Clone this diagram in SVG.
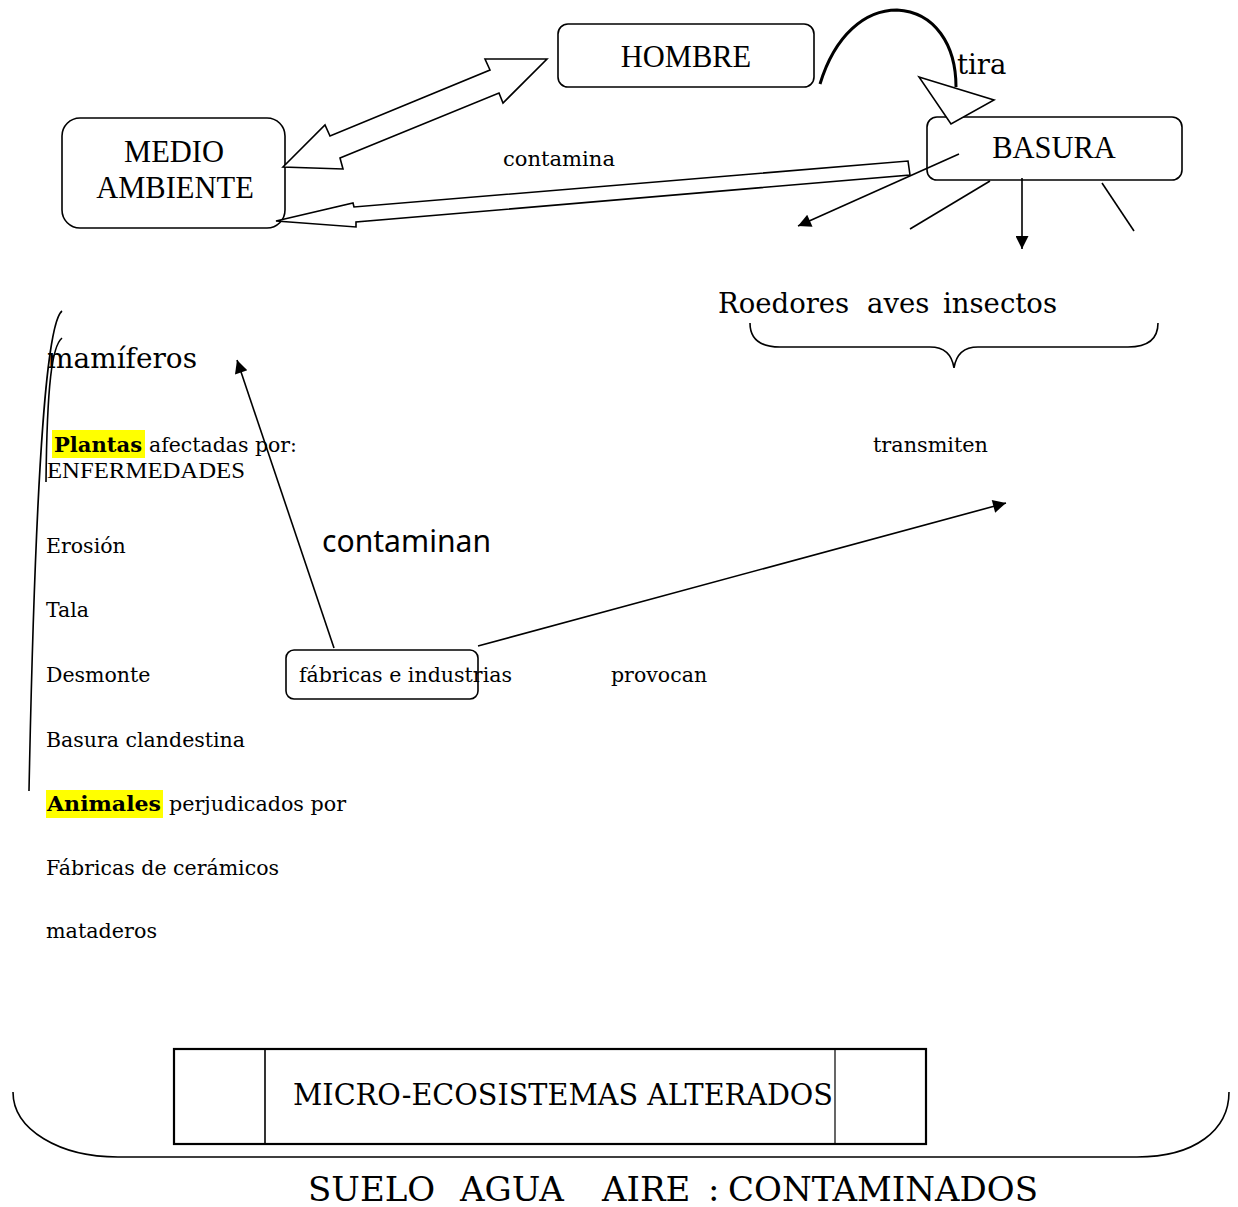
<svg xmlns="http://www.w3.org/2000/svg" width="1238" height="1207" viewBox="0 0 1238 1207">
<style>
.box{fill:#fff;stroke:#000;stroke-width:1.6}
.ln{fill:none;stroke:#000;stroke-width:1.6}
.blk{fill:#fff;stroke:#000;stroke-width:1.6;stroke-linejoin:miter}
.tm{font-family:"Liberation Serif","Times New Roman",serif;font-size:30.5px;fill:#000}
.cb{font-family:"DejaVu Serif","Liberation Serif",serif;font-size:20.5px;fill:#000}
.cbb{font-family:"DejaVu Serif","Liberation Serif",serif;font-size:20px;font-weight:bold;fill:#000}
.big{font-family:"DejaVu Serif","Liberation Serif",serif;font-size:27.5px;fill:#000}
.sans{font-family:"Noto Sans","Open Sans",sans-serif;font-size:30px;fill:#000}
.hl{fill:#ffff00}
</style>
<defs>
<marker id="ah" viewBox="0 0 10 10" refX="10" refY="5" markerWidth="18" markerHeight="13" markerUnits="userSpaceOnUse" orient="auto">
<path d="M0,0 L10,5 L0,10 Z" fill="#000"/>
</marker>
</defs>

<g id="hombre">
  <rect class="box" x="558" y="24" width="256" height="63" rx="10"/>
  <text class="tm" x="686" y="67" text-anchor="middle">HOMBRE</text>
</g>

<g id="medio-ambiente">
  <rect class="box" x="62" y="118" width="223" height="110" rx="18"/>
  <text class="tm" x="174" y="162" text-anchor="middle">MEDIO</text>
  <text class="tm" x="175" y="198" text-anchor="middle">AMBIENTE</text>
</g>

<g id="basura">
  <rect class="box" x="927" y="117" width="255" height="63" rx="10"/>
  <text class="tm" x="1054" y="158" text-anchor="middle">BASURA</text>
</g>

<g id="fabricas">
  <rect class="box" x="286" y="650" width="192" height="49" rx="8"/>
  <text class="cb" x="299" y="682" textLength="213" lengthAdjust="spacingAndGlyphs">fábricas e industrias</text>
</g>

<g id="micro-ecosistemas">
  <rect x="174" y="1049" width="752" height="95" fill="#fff" stroke="#000" stroke-width="2.2"/>
  <line x1="265" y1="1049" x2="265" y2="1144" stroke="#000" stroke-width="1.6"/>
  <line x1="835" y1="1049" x2="835" y2="1144" stroke="#000" stroke-width="1.2"/>
  <text class="cb" x="293" y="1105" style="font-size:29px" textLength="540" lengthAdjust="spacingAndGlyphs">MICRO-ECOSISTEMAS ALTERADOS</text>
</g>

<g id="connectors">
  <!-- double block arrow HOMBRE <-> MEDIO AMBIENTE -->
  <polygon class="blk" points="547,59 485,59 490,70 330,136 325,125 283,167 343,169 340,158 499,93 503,103"/>
  <!-- contamina block arrow BASURA -> MEDIO AMBIENTE -->
  <polygon class="blk" points="908,161 910,175 356,222 356,227 276,221 353,203 354,207"/>
  <!-- tira curved arrow -->
  <path d="M820,84 C835,35 865,10 897,10 C935,12 956,45 956,87" fill="none" stroke="#000" stroke-width="3"/>
  <polygon class="blk" points="919,77 994,100 951,124"/>
  <!-- BASURA outgoing lines -->
  <line class="ln" x1="959" y1="154" x2="798" y2="226" marker-end="url(#ah)"/>
  <line class="ln" x1="990" y1="181" x2="910" y2="229"/>
  <line class="ln" x1="1022" y1="178" x2="1022" y2="249" marker-end="url(#ah)"/>
  <line class="ln" x1="1102" y1="183" x2="1134" y2="231"/>
  <!-- brace under Roedores aves insectos -->
  <path class="ln" d="M750,323 C750,340 762,347 780,347 H930 C945,347 952,355 954,368 C956,355 963,347 978,347 H1128 C1146,347 1158,340 1158,323"/>
  <!-- left tall braces -->
  <path class="ln" d="M62,311 C48,322 36,440 29,791"/>
  <path class="ln" d="M62,338 C52,346 47,385 46,482"/>
  <!-- fabricas -> mamiferos -->
  <line class="ln" x1="334" y1="648" x2="237" y2="360" marker-end="url(#ah)"/>
  <!-- fabricas -> transmiten -->
  <line class="ln" x1="478" y1="646" x2="1006" y2="503" marker-end="url(#ah)"/>
  <!-- bottom brace -->
  <path class="ln" d="M13,1092 C13,1130 60,1157 118,1157 H1137 C1195,1157 1229,1130 1229,1092"/>
</g>

<g id="labels">
  <text class="big" x="957" y="74">tira</text>
  <text class="cb" x="503" y="166" style="font-size:21px" textLength="112" lengthAdjust="spacingAndGlyphs">contamina</text>
  <text class="big" y="313"><tspan x="718">Roedores</tspan><tspan x="867">aves</tspan><tspan x="943">insectos</tspan></text>
  <text class="big" x="47" y="368" textLength="150" lengthAdjust="spacingAndGlyphs">mamíferos</text>
  <text class="cb" x="873" y="452" textLength="115" lengthAdjust="spacingAndGlyphs">transmiten</text>
  <text class="sans" x="322" y="552" textLength="169" lengthAdjust="spacingAndGlyphs">contaminan</text>
  <text class="cb" x="611" y="682">provocan</text>
</g>

<g id="plantas">
  <rect class="hl" x="52" y="430" width="93" height="28"/>
  <text class="cbb" x="54" y="452" textLength="88" lengthAdjust="spacingAndGlyphs">Plantas</text>
  <text class="cb" x="149" y="452" textLength="148" lengthAdjust="spacingAndGlyphs">afectadas por:</text>
  <text class="tm" x="47" y="478" style="font-size:23.5px" textLength="198" lengthAdjust="spacingAndGlyphs">ENFERMEDADES</text>
  <text class="cb" x="46" y="553">Erosión</text>
  <text class="cb" x="46" y="617">Tala</text>
  <text class="cb" x="46" y="682">Desmonte</text>
  <text class="cb" x="46" y="747">Basura clandestina</text>
</g>

<g id="animales">
  <rect class="hl" x="46" y="790" width="117" height="28"/>
  <text class="cbb" x="47" y="811" textLength="114" lengthAdjust="spacingAndGlyphs">Animales</text>
  <text class="cb" x="169" y="811" textLength="177" lengthAdjust="spacingAndGlyphs">perjudicados por</text>
  <text class="cb" x="46" y="875" textLength="233" lengthAdjust="spacingAndGlyphs">Fábricas de cerámicos</text>
  <text class="cb" x="46" y="938" textLength="111" lengthAdjust="spacingAndGlyphs">mataderos</text>
</g>

<g id="contaminados">
  <text class="cb" y="1201" style="font-size:34px"><tspan x="308">SUELO</tspan><tspan x="460">AGUA</tspan><tspan x="602">AIRE</tspan><tspan x="708">:</tspan><tspan x="728">CONTAMINADOS</tspan></text>
</g>
</svg>
